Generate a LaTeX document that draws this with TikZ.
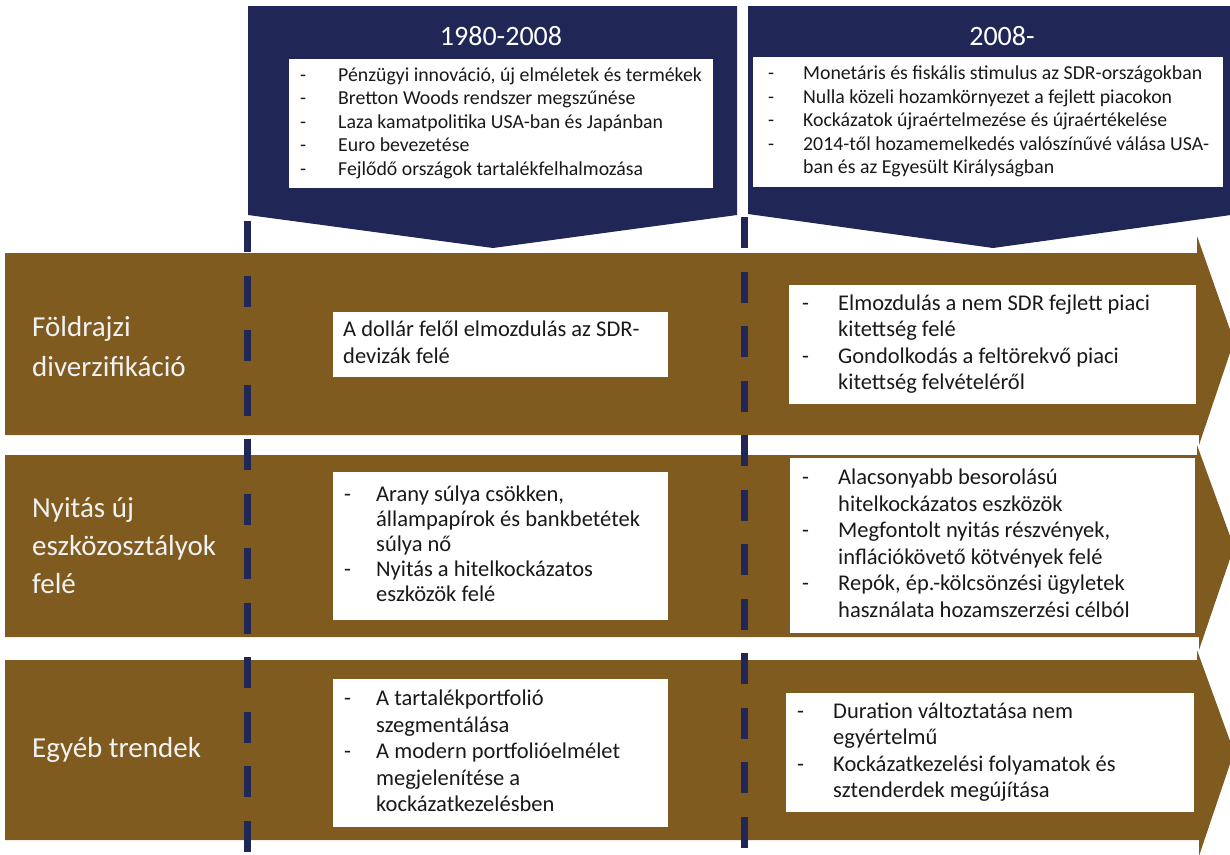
\documentclass[tikz,border=0pt]{standalone}
\usepackage{fontspec}
\setmainfont{Carlito}
\definecolor{navyc}{RGB}{32,39,87}
\definecolor{brownc}{RGB}{127,91,32}
\definecolor{lblc}{RGB}{242,242,242}
\definecolor{txtc}{RGB}{25,25,25}
\begin{document}
\begin{tikzpicture}[x=1pt,y=-1pt,
  wbox/.style={fill=white, inner sep=0pt, anchor=north west},
  btext/.style={anchor=west, inner sep=0pt, text=txtc, font=\fontsize{22.5}{26.5}\selectfont},
  ttext/.style={anchor=west, inner sep=0pt, text=txtc, font=\fontsize{19.8}{23.5}\selectfont},
  lbltext/.style={anchor=west, inner sep=0pt, text=lblc, font=\fontsize{29}{38}\selectfont, align=left},
  yeartitle/.style={text=white, font=\fontsize{28}{34}\selectfont, inner sep=0pt},
  dashline/.style={draw=navyc, line width=7pt, dash pattern=on 31pt off 23.5pt}]
\useasboundingbox (0,0) rectangle (1230,854);
\clip (0,0) rectangle (1230,854);
% chevrons
\fill[navyc] (248,6) -- (737,6) -- (737,215) -- (493,248) -- (248,215) -- cycle;
\fill[navyc] (748,6) -- (1238,6) -- (1238,214) -- (993,248) -- (748,214) -- cycle;
% bands
\fill[brownc] (5,253) -- (1197,253) -- (1197,236) -- (1234,341) -- (1199,445) -- (1199,435) -- (5,435) -- cycle;
\fill[brownc] (5,455) -- (1197,455) -- (1197,445) -- (1234,547) -- (1199,650) -- (1199,637) -- (5,637) -- cycle;
\fill[brownc] (5,660) -- (1197,660) -- (1197,650) -- (1234,752) -- (1199,856) -- (1199,840) -- (5,840) -- cycle;
% dashed separators
\coordinate (dLt) at (247,221);
\coordinate (dLb) at (247,860);
\coordinate (dRt) at (744,217);
\coordinate (dRb) at (744,860);
\draw[dashline] (dLt) -- (dLb);
\draw[dashline] (dRt) -- (dRb);
% titles
\node[yeartitle] (t1) at (501,36) {1980-2008};
\node[yeartitle] (t2) at (1002,36) {2008-};
% white boxes
\node[wbox, minimum width=424pt, minimum height=129pt] (topL) at (289,59) {};
\node[wbox, minimum width=470pt, minimum height=130pt] (topR) at (753,57) {};
\node[wbox, minimum width=335pt, minimum height=65pt] (b1L) at (333,312) {};
\node[wbox, minimum width=407pt, minimum height=119pt] (b1R) at (789,285) {};
\node[wbox, minimum width=335pt, minimum height=148pt] (b2L) at (333,472) {};
\node[wbox, minimum width=405pt, minimum height=175pt] (b2R) at (790,458) {};
\node[wbox, minimum width=335pt, minimum height=148pt] (b3L) at (333,679) {};
\node[wbox, minimum width=408pt, minimum height=119pt] (b3R) at (786,693) {};
% box texts
\node[ttext] (topLt) at ([xshift=11pt]topL.west) {\begin{tabular}{@{}p{38pt}@{}l@{}}
-&Pénzügyi innováció, új elméletek és termékek\\
-&Bretton Woods rendszer megszűnése\\
-&Laza kamatpolitika USA-ban és Japánban\\
-&Euro bevezetése\\
-&Fejlődő országok tartalékfelhalmozása
\end{tabular}};
\node[ttext] (topRt) at ([xshift=15pt]topR.west) {\begin{tabular}{@{}p{35pt}@{}l@{}}
-&Monetáris és fiskális stimulus az SDR-országokban\\
-&Nulla közeli hozamkörnyezet a fejlett piacokon\\
-&Kockázatok újraértelmezése és újraértékelése\\
-&2014-től hozamemelkedés valószínűvé válása USA-\\
&ban és az Egyesült Királyságban
\end{tabular}};
\node[btext] (b1Lt) at ([xshift=10pt]b1L.west) {\begin{tabular}{@{}l@{}}
A dollár felől elmozdulás az SDR-\\
devizák felé
\end{tabular}};
\node[btext] (b1Rt) at ([xshift=13pt]b1R.west) {\begin{tabular}{@{}p{36pt}@{}l@{}}
-&Elmozdulás a nem SDR fejlett piaci\\
&kitettség felé\\
-&Gondolkodás a feltörekvő piaci\\
&kitettség felvételéről
\end{tabular}};
\node[btext, font=\fontsize{22.5}{25}\selectfont] (b2Lt) at ([xshift=11pt]b2L.west) {\begin{tabular}{@{}p{32pt}@{}l@{}}
-&Arany súlya csökken,\\
&állampapírok és bankbetétek\\
&súlya nő\\
-&Nyitás a hitelkockázatos\\
&eszközök felé
\end{tabular}};
\node[btext] (b2Rt) at ([xshift=12pt]b2R.west) {\begin{tabular}{@{}p{36pt}@{}l@{}}
-&Alacsonyabb besorolású\\
&hitelkockázatos eszközök\\
-&Megfontolt nyitás részvények,\\
&inflációkövető kötvények felé\\
-&Repók, ép.-kölcsönzési ügyletek\\
&használata hozamszerzési célból
\end{tabular}};
\node[btext] (b3Lt) at ([xshift=11pt]b3L.west) {\begin{tabular}{@{}p{32pt}@{}l@{}}
-&A tartalékportfolió\\
&szegmentálása\\
-&A modern portfolióelmélet\\
&megjelenítése a\\
&kockázatkezelésben
\end{tabular}};
\node[btext] (b3Rt) at ([xshift=11pt]b3R.west) {\begin{tabular}{@{}p{36pt}@{}l@{}}
-&Duration változtatása nem\\
&egyértelmű\\
-&Kockázatkezelési folyamatok és\\
&sztenderdek megújítása
\end{tabular}};
% row labels
\node[lbltext, font=\fontsize{29}{40}\selectfont] (l1) at (32,347) {Földrajzi\\diverzifikáció};
\node[lbltext] (l2) at (32,546) {Nyitás új\\eszközosztályok\\felé};
\node[lbltext] (l3) at (32,750) {Egyéb trendek};
\end{tikzpicture}
\end{document}
